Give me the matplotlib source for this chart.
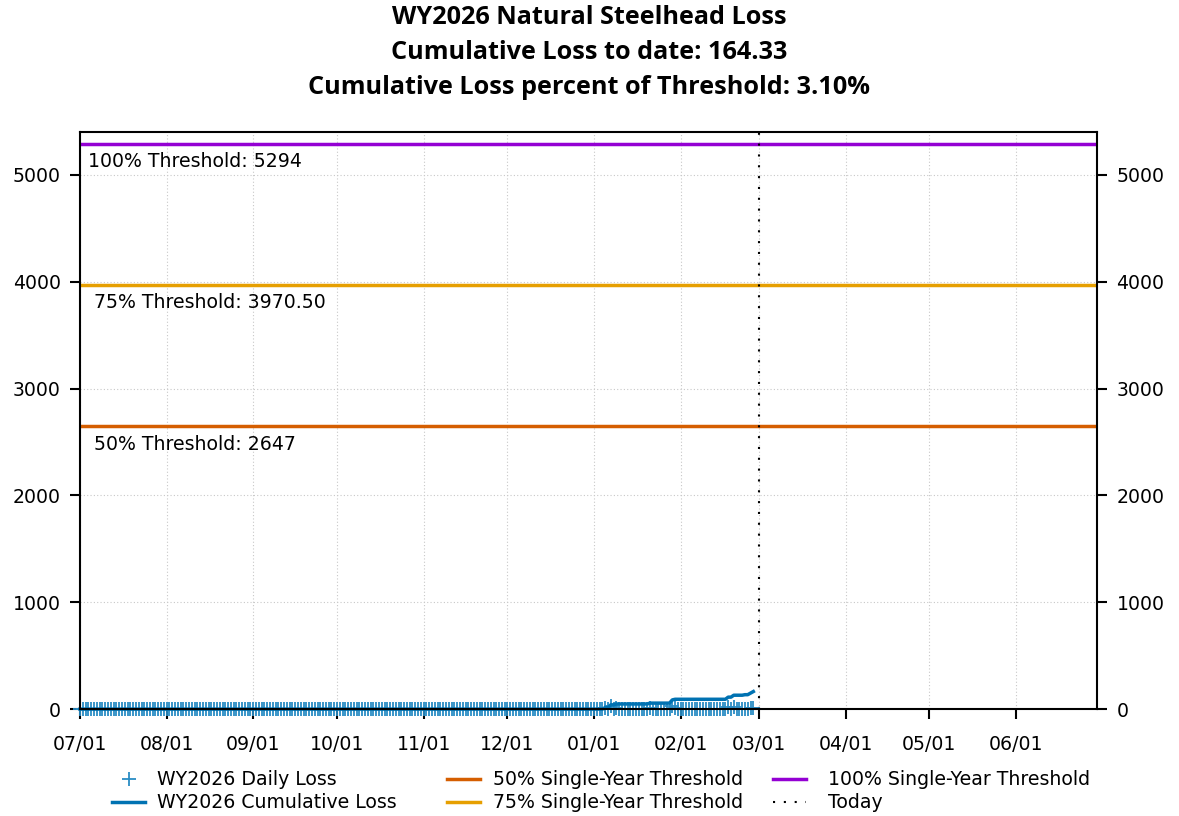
import numpy as np
import pandas as pd
import matplotlib
matplotlib.use('Agg')
import matplotlib.pyplot as plt
import matplotlib.dates as mdates

# water year window and today marker
wy_start = '2025-07-01'
wy_end = '2026-06-30'
today = '2026-03-01'
last_data_day = '2026-02-27'

# days with nonzero daily loss (all other days are 0)
loss_dates = ['2026-01-05', '2026-01-07', '2026-01-09', '2026-01-21', '2026-01-29',
              '2026-01-30', '2026-02-18', '2026-02-20', '2026-02-24', '2026-02-26',
              '2026-02-27']
loss_values = [15, 25, 8, 8, 30, 6, 20, 18, 5, 15, 14.33]

thresholds = [2647, 3970.50, 5294]
threshold_names = ['50% Single-Year Threshold', '75% Single-Year Threshold',
                   '100% Single-Year Threshold']
threshold_labels = ['50% Threshold: 2647', '75% Threshold: 3970.50', '100% Threshold: 5294']
threshold_colors = ['#D55E00', '#E69F00', '#9400D3']

days = pd.date_range(wy_start, last_data_day, freq='D')
daily = pd.Series(0.0, index=days)
daily[pd.to_datetime(loss_dates)] = loss_values
cumulative = daily.cumsum()

total = cumulative.iloc[-1]
pct = total / thresholds[2] * 100

fs = 13.6
fig = plt.figure(figsize=(11.79, 8.16), dpi=100)
ax = fig.add_axes([0.0679, 0.131, 0.8625, 0.707])

h_daily, = ax.plot(daily.index, daily.values, linestyle='none', marker='+',
                   markersize=10, markeredgewidth=1.3, color='#2a8cc4',
                   label='WY2026 Daily Loss', clip_on=False, zorder=3)
h_cum, = ax.plot(cumulative.index, cumulative.values, color='#0072B2', lw=2.5,
                 label='WY2026 Cumulative Loss', clip_on=False, zorder=4)

x0 = pd.Timestamp(wy_start)
x1 = pd.Timestamp(wy_end)
h_thr = []
for val, name, lab, col in zip(thresholds, threshold_names, threshold_labels, threshold_colors):
    h, = ax.plot([x0, x1], [val, val], color=col, lw=2.5, label=name)
    h_thr.append(h)
    ax.text(x0 + pd.Timedelta(days=3 if val > 5000 else 5), val - 80, lab,
            fontsize=fs, va='top', ha='left')

h_today = ax.axvline(pd.Timestamp(today), color='black', lw=1.5, linestyle=(0, (1, 4.2)),
                     label='Today')

ax.set_xlim(x0, x1)
ax.set_ylim(0, 5400)
ax.set_yticks([0, 1000, 2000, 3000, 4000, 5000])
ax.xaxis.set_major_locator(mdates.MonthLocator())
ax.xaxis.set_major_formatter(mdates.DateFormatter('%m/%d'))
ax.tick_params(labelsize=fs, length=7, width=1.5, direction='out')
ax.tick_params(axis='x', pad=12)
ax.tick_params(axis='y', pad=7, right=True, labelright=True)
ax.grid(True, color='#c8c8c8', linestyle=(0, (1, 2)), lw=0.8)
for s in ax.spines.values():
    s.set_linewidth(1.5)
    s.set_zorder(5)

# three legend columns placed like the original
cols = [([h_daily, h_cum], 106, 0.65), ([h_thr[0], h_thr[1]], 441, 0.7),
        ([h_thr[2], h_today], 767, 1.15)]
for hs, xpix, pad in cols:
    fig.legend(handles=hs, loc='upper left',
               bbox_to_anchor=(xpix / 1179 - 0.006, 1 - 757 / 816),
               frameon=False, fontsize=fs, handlelength=1.75, labelspacing=0.22,
               handletextpad=pad, borderpad=0.2)

fig.suptitle('WY2026 Natural Steelhead Loss\nCumulative Loss to date: %.2f\n'
             'Cumulative Loss percent of Threshold: %.2f%%' % (total, pct),
             fontsize=18.2, fontweight='bold', family=['Open Sans', 'DejaVu Sans'],
             linespacing=1.52, y=0.994)

fig.savefig('out.png', dpi=100)
